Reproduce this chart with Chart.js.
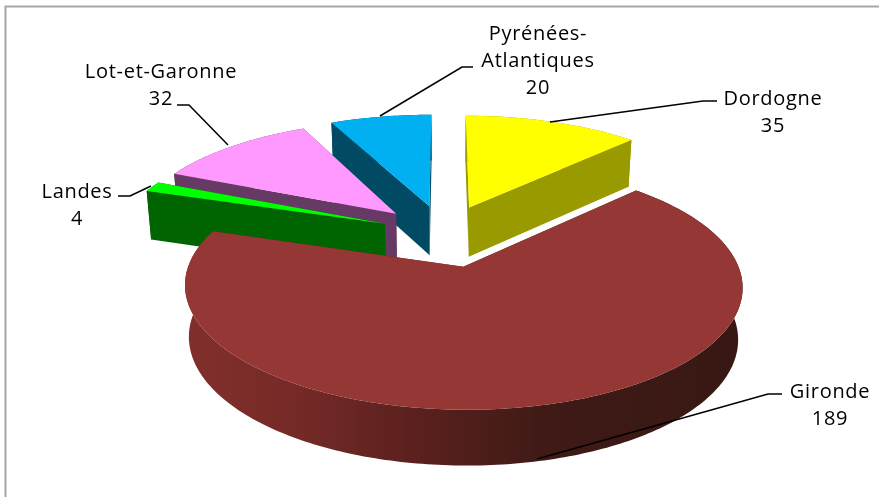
<!DOCTYPE html>
<html><head><meta charset="utf-8">
<style>html,body{margin:0;padding:0;background:#fff}canvas{display:block}</style>
<script src="https://cdn.jsdelivr.net/npm/chart.js@4/dist/chart.umd.min.js"></script>
</head><body><canvas id="c" width="879" height="497"></canvas>
<script>
const categories = ["Dordogne","Gironde","Landes","Lot-et-Garonne","Pyrénées-Atlantiques"];
const values = [35,189,4,32,20];
const labelLines = [["Dordogne"],["Gironde"],["Landes"],["Lot-et-Garonne"],["Pyrénées-","Atlantiques"]];
const topColors = ["#ffff00","#953735","#00ff00","#ff99ff","#00b0f0"];
const sideColors = ["#999900","#5a201e","#006400","#663a64","#004a63"];
const paintOrder = [4,0,3,2,1];
// projection of the tilted pie plane
const view = {cx:444, cy:233, fx:272, fy:114, k:0.16, depth:50, dropScale:0.985};
// per-slice explosion and radius fit
const explodeFit = [0.25,0.29,0.235,0.25,0.25];
const radiusFitX = [0.985,0.966,0.99,0.98,1];
const radiusFitY = [1,0.96,1,1,1];
// label layout: centre x, first baseline, leader polyline
const labelLayout = [
 {x:773,y:105,line:[[717,101],[703,101],[550,122]]},
 {x:830,y:398,line:[[782,394],[768,394],[537,459]]},
 {x:77,y:198,line:[[118,196],[130,196],[151,186]]},
 {x:161,y:78,line:[[177,105],[189,105],[228,145]]},
 {x:538,y:40,line:[[473,67],[462,67],[380,116]]}
];
function project(X,Y,drop){
  const w=1-view.k*Y;
  if(!drop) return [view.cx+view.fx*X/w, view.cy+view.fy*Y/w];
  return [view.cx+view.dropScale*view.fx*X/w, view.cy+view.fy*Y/w+view.depth/Math.sqrt(w)];
}
function fillPoly(ctx,pts,style){
  ctx.beginPath();pts.forEach((p,i)=>i?ctx.lineTo(p[0],p[1]):ctx.moveTo(p[0],p[1]));ctx.closePath();
  ctx.fillStyle=style;ctx.fill();
}
const pie3d={
  id:'pie3d',
  beforeDatasetsDraw(chart){
    const ctx=chart.ctx, arcs=chart.getDatasetMeta(0).data;
    ctx.save();
    paintOrder.forEach(i=>{
      const p=arcs[i].getProps(['startAngle','endAngle']);
      const mid=(p.startAngle+p.endAngle)/2;
      const ox=explodeFit[i]*Math.cos(mid), oy=explodeFit[i]*Math.sin(mid);
      const n=Math.max(4,Math.ceil((p.endAngle-p.startAngle)*60));
      const rim=[];
      for(let j=0;j<=n;j++){const a=p.startAngle+(p.endAngle-p.startAngle)*j/n;rim.push([ox+radiusFitX[i]*Math.cos(a),oy+radiusFitY[i]*Math.sin(a)]);}
      const top=rim.map(q=>project(q[0],q[1],false));
      const low=rim.map(q=>project(q[0],q[1],true));
      const tipT=project(ox,oy,false), tipL=project(ox,oy,true);
      let side=sideColors[i];
      fillPoly(ctx,[tipT,top[0],low[0],tipL],side);
      fillPoly(ctx,[tipT,top[n],low[n],tipL],side);
      let rimStyle=side;
      if(i===1){
        rimStyle=ctx.createLinearGradient(185,0,743,0);
        rimStyle.addColorStop(0,'#822f2c');
        rimStyle.addColorStop(0.2,'#752a27');
        rimStyle.addColorStop(0.4,'#5c211e');
        rimStyle.addColorStop(0.65,'#3f1a16');
        rimStyle.addColorStop(1,'#381814');
      }
      fillPoly(ctx,top.concat(low.slice().reverse()),rimStyle);
      fillPoly(ctx,[tipT].concat(top),topColors[i]);
    });
    ctx.restore();
    return false;
  },
  afterDraw(chart){
    const ctx=chart.ctx;
    ctx.save();
    ctx.strokeStyle='#a6a6a6';ctx.lineWidth=2;
    ctx.beginPath();ctx.moveTo(5.5,497);ctx.lineTo(5.5,6.5);ctx.lineTo(879,6.5);ctx.stroke();
    ctx.strokeStyle='#000';ctx.lineWidth=1.5;
    ctx.fillStyle='#000';ctx.textAlign='center';ctx.textBaseline='alphabetic';
    ctx.font='20px "Open Sans"';ctx.letterSpacing='0.7px';
    categories.forEach((c,i)=>{
      const L=labelLayout[i];
      ctx.beginPath();L.line.forEach((p,j)=>j?ctx.lineTo(p[0],p[1]):ctx.moveTo(p[0],p[1]));ctx.stroke();
      const lines=labelLines[i].concat([String(values[i])]);
      lines.forEach((t,j)=>ctx.fillText(t,L.x,L.y+j*27));
    });
    ctx.restore();
  }
};
new Chart(document.getElementById('c'),{
  type:'pie',
  data:{labels:categories,datasets:[{data:values,backgroundColor:topColors,borderWidth:0}]},
  options:{responsive:false,animation:false,rotation:0,layout:{padding:0},
    plugins:{legend:{display:false},tooltip:{enabled:false}}},
  plugins:[pie3d]
});
</script></body></html>
